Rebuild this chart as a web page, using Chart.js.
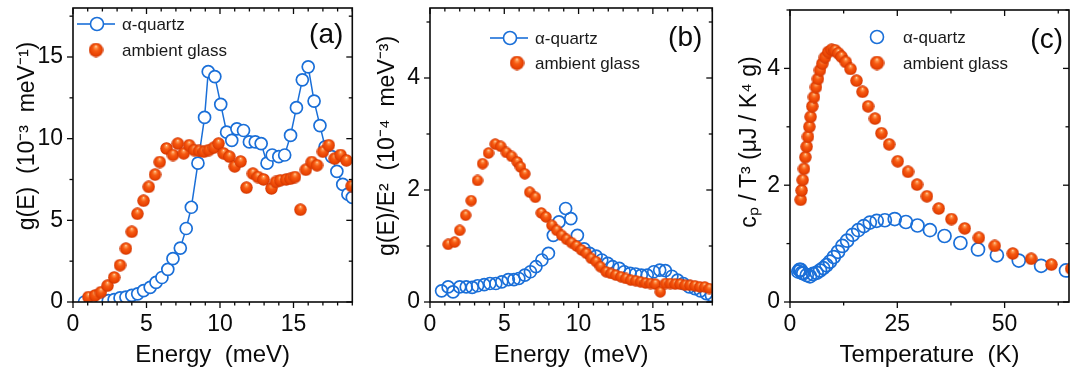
<!DOCTYPE html>
<html>
<head>
<meta charset="utf-8">
<script src="https://cdn.jsdelivr.net/npm/chart.js@4/dist/chart.umd.min.js"></script>
<style>
  html, body { margin: 0; padding: 0; background: #fff; }
  #wrap { position: relative; width: 1080px; height: 378px; }
  .panel { position: absolute; top: 0; width: 360px; height: 378px; }
</style>
</head>
<body>
<div id="wrap">
  <div class="panel" style="left:0px"><canvas id="chartA" width="360" height="378"></canvas></div>
  <div class="panel" style="left:360px"><canvas id="chartB" width="360" height="378"></canvas></div>
  <div class="panel" style="left:720px"><canvas id="chartC" width="360" height="378"></canvas></div>
</div>
<script>
// panel (a): g(E), 10^-3 meV^-1
const aQuartzE = [0.78, 1.2, 1.6, 2.0, 2.4, 2.8, 3.2, 3.6, 4.0, 4.4, 4.8, 5.25, 5.65, 6.05, 6.45, 6.8, 7.3, 7.7, 8.05, 8.5, 8.95, 9.2, 9.65, 10.05, 10.45, 10.8, 11.15, 11.6, 12.0, 12.4, 12.8, 13.2, 13.55, 14.0, 14.4, 14.8, 15.2, 15.6, 16.0, 16.4, 16.8, 17.15, 17.6, 17.95, 18.35, 18.7, 19.0];
const aQuartzG = [0.0, 0.0, 0.0, 0.02, 0.08, 0.15, 0.25, 0.3, 0.4, 0.5, 0.7, 0.9, 1.2, 1.5, 2.0, 2.65, 3.3, 4.5, 5.8, 8.5, 11.3, 14.1, 13.8, 12.1, 10.4, 9.9, 10.6, 10.5, 9.8, 9.8, 9.7, 8.5, 9.0, 8.9, 9.0, 10.2, 11.9, 13.6, 14.4, 12.3, 10.8, 9.5, 8.9, 8.0, 7.2, 6.6, 6.4];
const aGlassE = [1.05, 1.5, 1.9, 2.35, 2.8, 3.2, 3.6, 4.0, 4.38, 4.8, 5.15, 5.58, 5.9, 6.36, 6.8, 7.13, 7.53, 7.9, 8.24, 8.58, 8.9, 9.24, 9.58, 9.9, 10.24, 10.64, 11.0, 11.4, 11.8, 12.24, 12.58, 12.96, 13.5, 13.8, 14.1, 14.5, 14.8, 15.1, 15.47, 15.84, 16.24, 16.6, 17.0, 17.4, 17.8, 18.2, 18.6, 18.95];
const aGlassG = [0.3, 0.4, 0.6, 1.0, 1.5, 2.25, 3.27, 4.3, 5.4, 6.2, 7.05, 7.8, 8.57, 9.4, 9.0, 9.7, 9.1, 9.6, 9.3, 9.25, 9.2, 9.3, 9.45, 9.7, 9.1, 8.9, 8.3, 8.6, 7.0, 7.86, 7.65, 7.5, 6.95, 7.35, 7.45, 7.5, 7.55, 7.65, 5.65, 8.1, 8.57, 8.37, 9.2, 9.6, 8.78, 9.0, 8.67, 7.1];

// panel (b): g(E)/E^2, 10^-4 meV^-3
const bQuartzE = [0.78, 1.22, 1.55, 2.0, 2.44, 2.84, 3.2, 3.65, 4.03, 4.43, 4.83, 5.27, 5.65, 5.98, 6.38, 6.76, 7.13, 7.53, 7.97, 8.3, 8.68, 9.13, 9.48, 9.92, 10.37, 10.74, 11.18, 11.56, 11.96, 12.29, 12.74, 13.07, 13.47, 13.84, 14.22, 14.62, 15.06, 15.46, 15.84, 16.28, 16.66, 17.05, 17.45, 17.83, 18.2, 18.6, 18.94];
const bQuartzG = [0.2, 0.27, 0.18, 0.27, 0.27, 0.26, 0.29, 0.31, 0.33, 0.33, 0.36, 0.4, 0.4, 0.42, 0.48, 0.54, 0.63, 0.75, 0.87, 1.19, 1.43, 1.67, 1.49, 1.19, 0.95, 0.87, 0.82, 0.75, 0.69, 0.63, 0.6, 0.54, 0.51, 0.5, 0.48, 0.48, 0.54, 0.57, 0.56, 0.46, 0.39, 0.33, 0.27, 0.24, 0.2, 0.15, 0.12];
const bGlassE = [1.22, 1.66, 2.0, 2.4, 2.77, 3.2, 3.54, 3.94, 4.39, 4.76, 5.14, 5.49, 5.87, 6.09, 6.38, 6.71, 7.09, 7.49, 7.8, 8.2, 8.53, 8.86, 9.19, 9.52, 9.86, 10.19, 10.52, 10.85, 11.18, 11.47, 11.85, 12.18, 12.5, 12.85, 13.18, 13.51, 13.84, 14.17, 14.5, 14.84, 15.17, 15.5, 15.84, 16.17, 16.5, 16.83, 17.17, 17.5, 17.83, 18.16, 18.49, 18.8];
const bGlassG = [1.03, 1.07, 1.28, 1.55, 1.81, 2.17, 2.47, 2.66, 2.82, 2.78, 2.67, 2.6, 2.5, 2.41, 2.29, 1.96, 1.87, 1.59, 1.52, 1.37, 1.28, 1.19, 1.12, 1.06, 1.0, 0.93, 0.87, 0.78, 0.72, 0.63, 0.54, 0.51, 0.48, 0.45, 0.42, 0.39, 0.38, 0.36, 0.34, 0.33, 0.32, 0.18, 0.33, 0.33, 0.32, 0.32, 0.3, 0.3, 0.29, 0.27, 0.27, 0.24];

// panel (c): cp/T^3, uJ/(K^4 g)
const cQuartzT = [1.94, 2.2, 2.5, 2.8, 3.1, 3.9, 4.65, 5.4, 6.2, 7.0, 7.75, 8.5, 9.3, 10.2, 11.2, 12.2, 13.3, 14.6, 15.9, 17.2, 18.6, 20.2, 22.1, 24.4, 27.0, 29.7, 32.6, 36.0, 39.7, 43.8, 48.2, 53.3, 58.5, 64.3];
const cQuartzC = [0.52, 0.55, 0.55, 0.5, 0.49, 0.46, 0.44, 0.48, 0.5, 0.54, 0.58, 0.63, 0.69, 0.77, 0.86, 0.96, 1.05, 1.15, 1.23, 1.3, 1.36, 1.39, 1.4, 1.42, 1.37, 1.31, 1.23, 1.13, 1.01, 0.9, 0.8, 0.71, 0.62, 0.54];
const cGlassT = [2.48, 2.7, 2.95, 3.26, 3.57, 3.88, 4.19, 4.5, 4.8, 5.19, 5.58, 6.05, 6.5, 6.98, 7.52, 8.14, 8.9, 9.69, 10.47, 11.24, 12.0, 13.0, 14.1, 15.5, 16.9, 18.2, 19.8, 21.3, 23.1, 25.1, 27.5, 29.6, 31.9, 34.65, 37.6, 40.7, 44.0, 47.7, 51.9, 56.2, 60.9, 65.5];
const cGlassC = [1.75, 1.91, 2.09, 2.28, 2.48, 2.66, 2.83, 3.0, 3.17, 3.35, 3.51, 3.68, 3.82, 3.97, 4.08, 4.19, 4.28, 4.32, 4.31, 4.26, 4.2, 4.11, 3.99, 3.79, 3.6, 3.35, 3.14, 2.89, 2.7, 2.41, 2.23, 2.01, 1.81, 1.6, 1.42, 1.26, 1.1, 0.96, 0.83, 0.74, 0.64, 0.57];

const BLUE = '#1a6fd8';
const INK = '#0a0a0a';
const FONT = 'Liberation Sans, Arial, sans-serif';

const pts = (xs, ys) => xs.map((x, i) => ({ x: x, y: ys[i] }));

// shaded orange sphere used as point style
function makeBall(d) {
  const c = document.createElement('canvas');
  c.width = d; c.height = d;
  const g = c.getContext('2d');
  const r = d / 2;
  const grad = g.createRadialGradient(r, r * 0.5, r * 0.03, r, r * 1.05, r);
  grad.addColorStop(0, '#ffe6cc');
  grad.addColorStop(0.13, '#ff9a52');
  grad.addColorStop(0.4, '#f65a12');
  grad.addColorStop(0.78, '#e84202');
  grad.addColorStop(1, '#c22f00');
  g.fillStyle = grad;
  g.beginPath();
  g.arc(r, r, r - 0.3, 0, Math.PI * 2);
  g.fill();
  return c;
}

// frame with minor ticks, y title, legend and panel letter
const framePlugin = {
  id: 'frame',
  afterDraw(chart, args, o) {
    const { ctx, chartArea: ca, scales } = chart;
    const x = scales.x, y = scales.y;
    ctx.save();
    ctx.strokeStyle = INK;
    ctx.lineWidth = 1.6;
    ctx.strokeRect(ca.left, ca.top, ca.right - ca.left, ca.bottom - ca.top);
    ctx.lineWidth = 1.3;
    const seg = (x1, y1, x2, y2) => { ctx.beginPath(); ctx.moveTo(x1, y1); ctx.lineTo(x2, y2); ctx.stroke(); };
    const isMajor = (v, step) => Math.abs(v / step - Math.round(v / step)) < 1e-6;
    for (let i = 0; i * o.xMinor <= x.max + 1e-9; i++) {
      const v = i * o.xMinor;
      const px = x.getPixelForValue(v);
      const len = isMajor(v, o.xMajor) ? 6 : 3.5;
      seg(px, ca.bottom, px, ca.bottom + len);
      seg(px, ca.top, px, ca.top + len);
    }
    for (let i = 0; i * o.yMinor <= y.max + 1e-9; i++) {
      const v = i * o.yMinor;
      const py = y.getPixelForValue(v);
      const len = isMajor(v, o.yMajor) ? 6 : 3.5;
      seg(ca.left, py, ca.left - len, py);
      seg(ca.right, py, ca.right - len, py);
    }
    // y axis title
    ctx.save();
    ctx.translate(o.yTitleX, o.yTitleY);
    ctx.rotate(-Math.PI / 2);
    ctx.font = '23px ' + FONT;
    ctx.fillStyle = INK;
    ctx.textAlign = 'center';
    ctx.textBaseline = 'middle';
    ctx.fillText(o.yTitle, 0, 0);
    ctx.restore();
    // legend
    ctx.font = '17px ' + FONT;
    ctx.fillStyle = '#1a1a1a';
    ctx.textBaseline = 'middle';
    ctx.textAlign = 'left';
    o.legend.forEach(item => {
      const sx = ca.left + item.sx, sy = ca.top + item.sy;
      if (item.kind === 'lineCircle' || item.kind === 'circle') {
        ctx.strokeStyle = BLUE;
        ctx.lineWidth = 1.6;
        if (item.kind === 'lineCircle') {
          seg(sx - 20, sy, sx - 6.5, sy);
          seg(sx + 6.5, sy, sx + 18, sy);
        }
        ctx.beginPath();
        ctx.arc(sx, sy, 6.5, 0, Math.PI * 2);
        ctx.stroke();
      } else {
        ctx.drawImage(makeBall(15), sx - 7.5, sy - 7.5);
      }
      ctx.fillText(item.text, ca.left + item.tx, sy + 1);
    });
    ctx.font = '28px ' + FONT;
    ctx.fillStyle = INK;
    ctx.textAlign = 'right';
    ctx.fillText(o.letter, ca.right + o.letterDx, ca.top + o.letterDy);
    ctx.restore();
  }
};

function panel(id, cfg) {
  new Chart(document.getElementById(id), {
    type: 'scatter',
    data: {
      datasets: [
        {
          label: 'α-quartz',
          data: cfg.quartz,
          showLine: cfg.quartzLine,
          borderColor: BLUE,
          borderWidth: 1.5,
          pointRadius: cfg.quartzR,
          pointBorderWidth: 1.7,
          pointBorderColor: BLUE,
          pointBackgroundColor: cfg.quartzFill,
          clip: 0,
          order: 2
        },
        {
          label: 'ambient glass',
          data: cfg.glass,
          pointStyle: makeBall(cfg.ball),
          pointRadius: cfg.ball / 2,
          clip: 0,
          order: 1
        }
      ]
    },
    options: {
      responsive: false,
      animation: false,
      layout: { padding: { top: cfg.padTop, right: cfg.padRight, left: 0, bottom: 0 } },
      plugins: {
        legend: { display: false },
        tooltip: { enabled: false },
        frame: cfg.frame
      },
      scales: {
        x: {
          type: 'linear',
          min: 0,
          max: cfg.xMax,
          afterFit(s) { s.height = 76; s.paddingLeft = 0; s.paddingRight = 0; },
          grid: { display: false, drawTicks: false },
          border: { display: false },
          ticks: { stepSize: cfg.frame.xMajor, includeBounds: false, padding: 9, color: INK, font: { family: FONT, size: 23 } },
          title: { display: true, text: cfg.xTitle, color: INK, font: { family: FONT, size: 24 }, padding: { bottom: 8 } }
        },
        y: {
          type: 'linear',
          min: 0,
          max: cfg.yMax,
          afterFit(s) { s.width = cfg.yWidth; s.paddingTop = 0; s.paddingBottom = 0; },
          grid: { display: false, drawTicks: false },
          border: { display: false },
          ticks: { stepSize: cfg.frame.yMajor, includeBounds: false, padding: 10, color: INK, font: { family: FONT, size: 23 } },
          title: { display: false }
        }
      }
    },
    plugins: [framePlugin]
  });
}

panel('chartA', {
  quartz: pts(aQuartzE, aQuartzG),
  glass: pts(aGlassE, aGlassG),
  quartzLine: true, quartzFill: '#ffffff', quartzR: 6, ball: 13,
  xMax: 19, yMax: 18, yWidth: 73, padTop: 8, padRight: 3,
  xTitle: 'Energy  (meV)',
  frame: {
    yTitle: 'g(E)  (10⁻³  meV⁻¹)', yTitleX: 28, yTitleY: 136,
    xMajor: 5, xMinor: 1, yMajor: 5, yMinor: 2.5,
    letter: '(a)', letterDx: -9, letterDy: 27,
    legend: [
      { kind: 'lineCircle', text: 'α-quartz', sx: 24, sy: 16, tx: 49 },
      { kind: 'ball', text: 'ambient glass', sx: 23, sy: 42, tx: 49 }
    ]
  }
});

panel('chartB', {
  quartz: pts(bQuartzE, bQuartzG),
  glass: pts(bGlassE, bGlassG),
  quartzLine: false, quartzFill: 'rgba(255,255,255,0)', quartzR: 6, ball: 12,
  xMax: 19, yMax: 5.25, yWidth: 70, padTop: 8, padRight: 3,
  xTitle: 'Energy  (meV)',
  frame: {
    yTitle: 'g(E)/E²  (10⁻⁴  meV⁻³)', yTitleX: 28, yTitleY: 146,
    xMajor: 5, xMinor: 1, yMajor: 2, yMinor: 1,
    letter: '(b)', letterDx: -10, letterDy: 30,
    legend: [
      { kind: 'lineCircle', text: 'α-quartz', sx: 80, sy: 30, tx: 105 },
      { kind: 'ball', text: 'ambient glass', sx: 87, sy: 55, tx: 105 }
    ]
  }
});

panel('chartC', {
  quartz: pts(cQuartzT, cQuartzC),
  glass: pts(cGlassT, cGlassC),
  quartzLine: false, quartzFill: 'rgba(255,255,255,0)', quartzR: 6.5, ball: 13,
  xMax: 65, yMax: 5, yWidth: 70, padTop: 10, padRight: 11,
  xTitle: 'Temperature  (K)',
  frame: {
    yTitle: 'cₚ / T³ (μJ / K⁴ g)', yTitleX: 30, yTitleY: 142,
    xMajor: 25, xMinor: 12.5, yMajor: 2, yMinor: 1,
    letter: '(c)', letterDx: -6, letterDy: 30,
    legend: [
      { kind: 'circle', text: 'α-quartz', sx: 87, sy: 27, tx: 113 },
      { kind: 'ball', text: 'ambient glass', sx: 87, sy: 53, tx: 113 }
    ]
  }
});
</script>
</body>
</html>
